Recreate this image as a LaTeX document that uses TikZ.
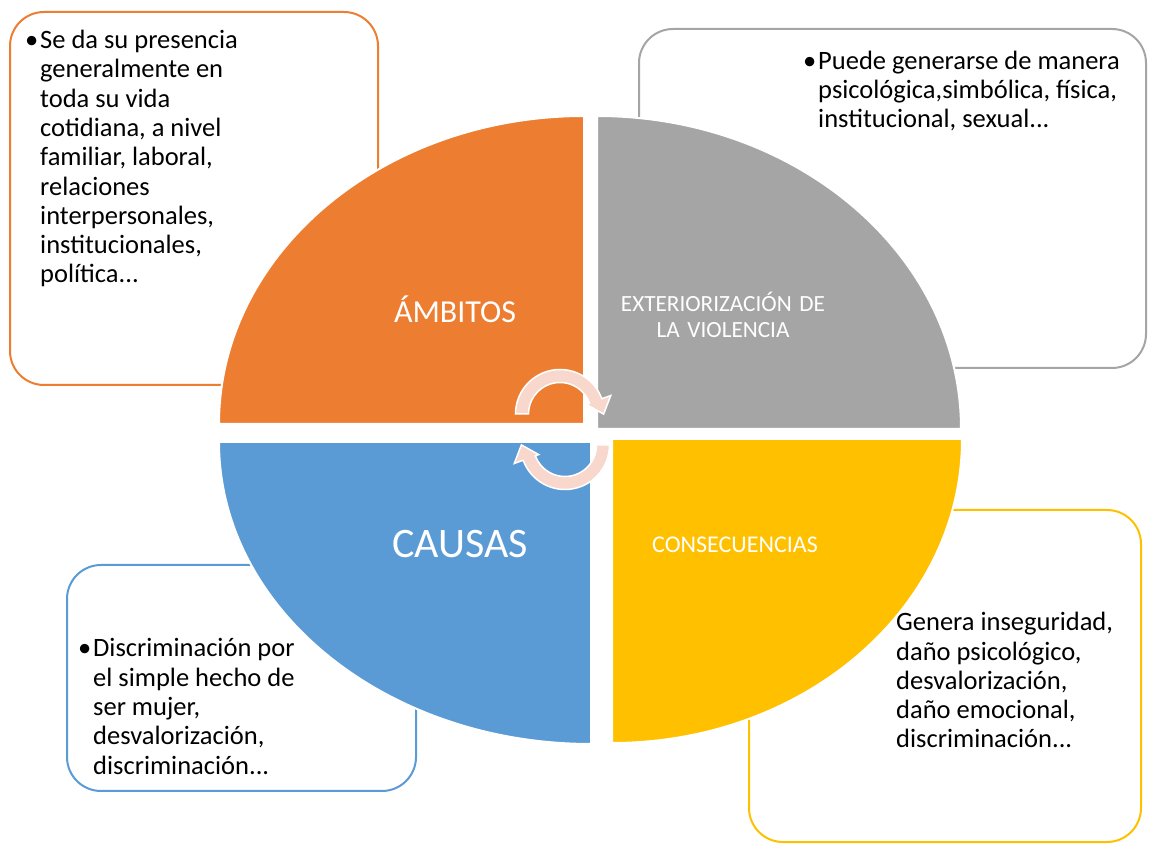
\documentclass[tikz,border=0pt]{standalone}
\usepackage{fontspec}
\setmainfont{Carlito}
\definecolor{ambOrange}{HTML}{ED7D31}
\definecolor{extGray}{HTML}{A5A5A5}
\definecolor{cauBlue}{HTML}{5B9BD5}
\definecolor{conYellow}{HTML}{FFC000}
\definecolor{cyclePink}{HTML}{F8D7CC}
\begin{document}
\begin{tikzpicture}[x=1pt, y=1pt,
    % Box styles
    infobox/.style={line width=2pt, fill=white, rounded corners=34pt},
    % Quarter styles
    quarter/.style={draw=white, line width=2pt},
    cyclearrow/.style={fill=cyclePink, draw=white, line width=1.5pt},
    % Text styles (anchored at the last line)
    boxtext/.style={anchor=base west, inner sep=0pt, align=left, font=\fontsize{26.5}{29.3}\selectfont, text=black},
    quartertext/.style={anchor=base, inner sep=0pt, text=white, align=center},
]
\useasboundingbox (0,0) rectangle (1152,844);

% === BOXES ===
\draw[infobox, draw=ambOrange] (10,459) rectangle (378,832);
\draw[infobox, draw=extGray] (639,476) rectangle (1146,815);
\draw[infobox, draw=cauBlue] (67,53) rectangle (416,279);
\draw[infobox, draw=conYellow] (749,2) rectangle (1141,334);

% === QUARTERS ===
\filldraw[quarter, fill=ambOrange] (584,420) -- (219,420) arc[start angle=180, end angle=90, x radius=365, y radius=308] -- cycle;
\filldraw[quarter, fill=extGray] (597,415) -- (597,728) arc[start angle=90, end angle=0, x radius=364, y radius=313] -- cycle;
\filldraw[quarter, fill=cauBlue] (591,402) -- (219,402) arc[start angle=180, end angle=270, x radius=372, y radius=302] -- cycle;
\filldraw[quarter, fill=conYellow] (612,405) -- (962,405) arc[start angle=0, end angle=-90, x radius=350, y radius=304] -- cycle;

% === CYCLE ARROWS ===
\begin{scope}[shift={(560,430)}]
    \filldraw[cyclearrow] (180:44.5) arc[start angle=180, end angle=20, radius=44.5] -- (20:54) -- (43.6,-0.1) -- (20:28) -- (20:31.5) arc[start angle=20, end angle=180, radius=31.5] -- cycle;
\end{scope}
\begin{scope}[shift={(565,399)}]
    \filldraw[cyclearrow] (0:44.5) arc[start angle=0, end angle=-160, radius=44.5] -- (-160:54) -- (-43.6,0.1) -- (-160:28) -- (-160:31.5) arc[start angle=-160, end angle=0, radius=31.5] -- cycle;
\end{scope}

% === LABELS ===
\node[quartertext, font=\fontsize{32}{38}\selectfont] (ambitos) at (455,521) {ÁMBITOS};
\node[quartertext, font=\fontsize{23.2}{26}\selectfont, text width=240pt] (exterior) at (723,532) {EXTERIORIZACIÓN DE\\LA VIOLENCIA};
\node[quartertext, font=\fontsize{42}{50}\selectfont] (causas) at (460,286) {CAUSAS};
\node[quartertext, font=\fontsize{24}{29}\selectfont] (consec) at (735,291) {CONSECUENCIAS};

% === BOX TEXTS ===
\node[boxtext] (ambtext) at (40,561) {\llap{•\hspace{2pt}}Se da su presencia\\generalmente en\\toda su vida\\cotidiana, a nivel\\familiar, laboral,\\relaciones\\interpersonales,\\institucionales,\\política...};
\node[boxtext] (exttext) at (818,716) {\llap{•\hspace{2pt}}Puede generarse de manera\\psicológica,simbólica, física,\\institucional, sexual...};
\node[boxtext] (cautext) at (93,70) {\llap{•\hspace{2pt}}Discriminación por\\el simple hecho de\\ser mujer,\\desvalorización,\\discriminación...};
\node[boxtext] (context) at (896,96) {Genera inseguridad,\\daño psicológico,\\desvalorización,\\daño emocional,\\discriminación...};

\end{tikzpicture}
\end{document}
